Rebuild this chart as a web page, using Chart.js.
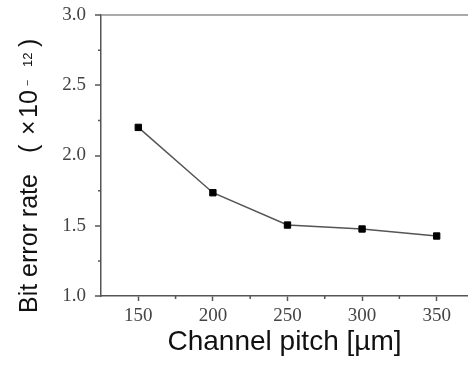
<!DOCTYPE html>
<html>
<head>
<meta charset="utf-8">
<script src="https://cdn.jsdelivr.net/npm/chart.js@4.4.0/dist/chart.umd.js"></script>
<style>
  html, body { margin: 0; padding: 0; background: #fff; overflow: hidden; }
  #wrap { width: 468px; height: 365px; }
</style>
</head>
<body>
<div id="wrap"><canvas id="chart"></canvas></div>
<script>
// channel pitch in µm
const pitches = [150, 200, 250, 300, 350];
// bit error rate, x 10^-12
const errorRates = [2.2, 1.735, 1.505, 1.477, 1.427];
const xTickLabels = [150, 200, 250, 300, 350];
const yTickLabels = [1.0, 1.5, 2.0, 2.5, 3.0];

const axisColor = '#555';
const tickFont = { family: 'Liberation Serif', size: 19 };

// short ticks halfway between the labelled ones
const minorTicks = {
  id: 'minorTicks',
  afterDraw(chart) {
    const { ctx, scales: { x, y } } = chart;
    ctx.save();
    ctx.strokeStyle = axisColor;
    ctx.lineWidth = 1.5;
    ctx.beginPath();
    for (let v = 175; v < x.max; v += 50) {
      const px = x.getPixelForValue(v);
      ctx.moveTo(px, x.top);
      ctx.lineTo(px, x.top + 3);
    }
    for (let v = y.min + 0.25; v < y.max; v += 0.5) {
      const py = y.getPixelForValue(v);
      ctx.moveTo(y.right, py);
      ctx.lineTo(y.right - 3, py);
    }
    ctx.stroke();
    ctx.restore();
  }
};

// y title drawn by hand: the exponent part is spaced out like the original
const yTitle = {
  id: 'yTitle',
  afterDraw(chart) {
    const { ctx } = chart;
    const big = '25px "Liberation Sans", Arial, sans-serif';
    const small = '13px "Liberation Sans", Arial, sans-serif';
    const parts = [
      ['Bit error rate', 0, 0, big],
      ['(', 160, 0, big],
      ['×', 178, 0, big],
      ['10', 195, 0, big],
      ['‾', 228, 0, small],
      ['12', 246, -5, small],
      [')', 266, 0, big]
    ];
    ctx.save();
    ctx.translate(37, 313);
    ctx.rotate(-Math.PI / 2);
    ctx.fillStyle = '#111';
    ctx.textAlign = 'left';
    ctx.textBaseline = 'alphabetic';
    parts.forEach(([t, dx, dy, f]) => {
      ctx.font = f;
      ctx.fillText(t, dx, dy);
    });
    ctx.restore();
  }
};

new Chart(document.getElementById('chart'), {
  type: 'line',
  data: {
    datasets: [{
      data: pitches.map((p, i) => ({ x: p, y: errorRates[i] })),
      borderColor: '#555',
      borderWidth: 1.5,
      pointStyle: 'rect',
      pointRadius: 4.5,
      pointBackgroundColor: '#000',
      pointBorderColor: '#000',
      pointBorderWidth: 1,
      tension: 0
    }]
  },
  options: {
    responsive: true,
    maintainAspectRatio: false,
    animation: false,
    // no auto padding for the point markers, the plot runs to the right edge
    layout: { autoPadding: false, padding: { left: 0, right: 0, top: 15, bottom: 0 } },
    plugins: {
      legend: { display: false },
      tooltip: { enabled: false }
    },
    scales: {
      x: {
        type: 'linear',
        min: 125,
        max: 371,
        afterBuildTicks: (scale) => {
          scale.ticks = xTickLabels.map(v => ({ value: v }));
        },
        afterFit: (scale) => {
          scale.height = 69;
          scale.paddingLeft = 0;
          scale.paddingRight = 0;
        },
        ticks: {
          color: '#444',
          font: tickFont,
          padding: 4,
          maxRotation: 0,
          callback: (v) => String(v)
        },
        grid: {
          drawOnChartArea: false,
          tickLength: 5,
          tickWidth: 1.5,
          tickColor: axisColor
        },
        border: { color: axisColor, width: 1.5 },
        title: {
          display: true,
          text: 'Channel pitch [µm]',
          color: '#111',
          font: { family: 'Liberation Sans', size: 28 },
          padding: { top: 0, bottom: 6 }
        }
      },
      y: {
        min: 1,
        max: 3,
        afterBuildTicks: (scale) => {
          scale.ticks = yTickLabels.map(v => ({ value: v }));
        },
        afterFit: (scale) => {
          scale.width = 101;
          scale.paddingTop = 0;
          scale.paddingBottom = 0;
        },
        ticks: {
          color: '#444',
          font: tickFont,
          padding: 9,
          callback: (v) => v.toFixed(1)
        },
        grid: {
          drawOnChartArea: true,
          color: (c) => (c.tick && c.tick.value === 3 ? '#aaa' : 'transparent'),
          lineWidth: 2,
          tickLength: 6,
          tickWidth: 1.5,
          tickColor: axisColor
        },
        border: { color: axisColor, width: 1.5 }
      }
    }
  },
  plugins: [minorTicks, yTitle]
});
</script>
</body>
</html>
